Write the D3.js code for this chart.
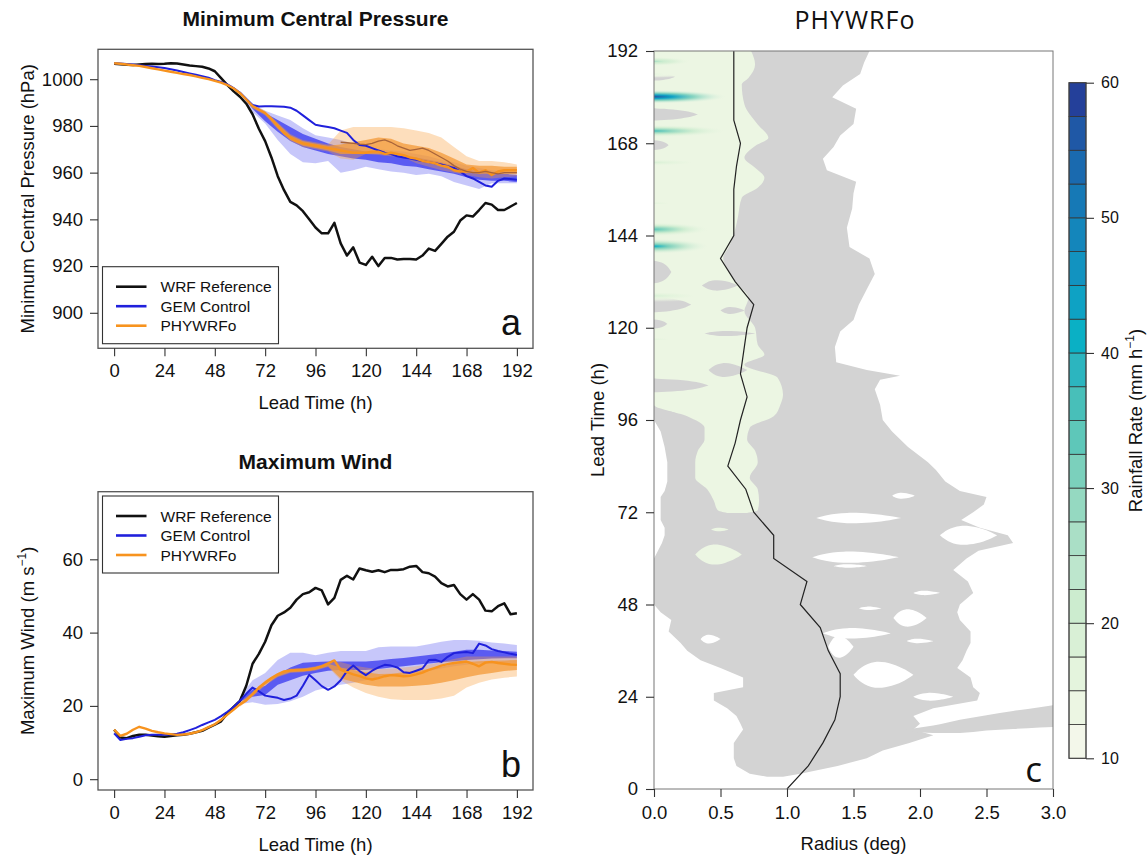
<!DOCTYPE html>
<html>
<head>
<meta charset="utf-8">
<script src="https://cdn.jsdelivr.net/npm/d3@7"></script>
<style>
    body { margin: 0; background: #ffffff; }
    svg text { font-family: "Liberation Sans", Arial, Helvetica, sans-serif; fill: #111; }
</style>
</head>
<body>
<svg id="chart" width="1148" height="857"></svg>
<script>

//--- Daten ---------------------------------------------------------------------------------------------- //

var leadHours = d3.range(0, 193, 3);
var bandHours = d3.range(60, 193, 6);
var meanHours = d3.range(108, 193, 3);
var stormHours = d3.range(0, 193, 6);

var hourTicks = [0, 24, 48, 72, 96, 120, 144, 168, 192];
var pressureTicks = [900, 920, 940, 960, 980, 1000];
var windTicks = [0, 20, 40, 60];
var radiusTicks = [0, 0.5, 1, 1.5, 2, 2.5, 3];
var rainTicks = [10, 20, 30, 40, 50, 60];

var legendNames = ['WRF Reference', 'GEM Control', 'PHYWRFo'];

// minimum central pressure (hPa), every 3 h
var wrfPressure = [1006.6, 1006.4, 1006.2, 1006.1, 1006.3, 1006.5, 1006.6, 1006.5, 1006.6, 1006.8, 1006.7, 1006.3, 1005.9, 1005.6, 1005.3, 1004.6, 1003.4, 1000.5, 997.5, 994.8, 992.5, 989.5, 985.0, 978.8, 973.5, 966.5, 958.5, 952.5, 947.5, 946.0, 943.5, 940.0, 936.5, 934.0, 934.0, 938.5, 929.7, 924.5, 928.0, 921.5, 920.5, 924.0, 920.0, 923.5, 923.5, 922.8, 923.0, 923.0, 922.8, 924.5, 927.5, 926.5, 929.5, 932.6, 934.7, 939.5, 941.7, 941.2, 944.0, 947.0, 946.3, 944.0, 944.0, 945.5, 947.0];
var gemPressure = [1006.8, 1006.7, 1006.5, 1006.3, 1006.0, 1005.7, 1005.4, 1005.1, 1004.8, 1004.3, 1003.7, 1003.1, 1002.5, 1001.9, 1001.3, 1000.6, 999.6, 998.8, 997.8, 996.2, 994.2, 991.5, 989.0, 988.3, 988.4, 988.4, 988.3, 988.2, 987.8, 986.5, 984.5, 982.5, 980.5, 980.0, 979.5, 979.0, 978.0, 977.0, 974.0, 971.8, 971.5, 970.5, 969.5, 968.5, 968.0, 967.0, 966.5, 966.0, 965.5, 965.0, 964.5, 964.0, 963.5, 962.8, 962.0, 960.5, 958.5, 957.5, 956.0, 954.5, 954.0, 956.5, 957.5, 957.3, 957.0];
var phyPressure = [1006.8, 1006.6, 1006.3, 1006.0, 1005.7, 1005.2, 1004.7, 1004.2, 1003.7, 1003.2, 1002.7, 1002.2, 1001.8, 1001.2, 1000.6, 1000.0, 999.3, 998.5, 997.5, 996.0, 994.0, 991.3, 988.5, 987.0, 985.5, 983.0, 980.0, 977.0, 975.0, 973.5, 972.5, 972.0, 971.5, 971.0, 970.5, 970.0, 969.5, 969.0, 968.5, 968.5, 968.5, 969.0, 969.0, 968.0, 968.5, 968.0, 967.5, 966.5, 966.0, 965.0, 964.5, 964.0, 963.0, 962.5, 961.0, 960.5, 960.5, 962.0, 960.0, 961.0, 959.0, 960.5, 961.0, 961.0, 961.0];
var phyMeanPressure = [973.0, 972.8, 972.5, 972.2, 972.0, 972.5, 973.5, 974.0, 973.0, 971.5, 970.5, 969.5, 970.0, 970.5, 969.5, 968.0, 966.5, 965.0, 963.0, 961.5, 960.5, 960.0, 960.0, 960.5, 960.0, 959.5, 960.0, 960.0, 960.0];

// ensemble spread (light) and interquartile range (dark), every 6 h from 60 h
var gemPresSpreadHi = [995.0, 989.5, 986.5, 984.5, 982.5, 979.0, 976.0, 975.0, 974.0, 972.5, 971.0, 970.0, 969.5, 969.0, 968.0, 967.0, 965.5, 964.5, 963.0, 962.0, 961.0, 960.5, 960.0];
var gemPresSpreadLo = [993.5, 986.0, 981.0, 974.0, 968.0, 964.5, 964.0, 965.0, 960.0, 961.0, 962.5, 961.5, 960.5, 960.0, 959.0, 959.5, 958.5, 956.0, 954.5, 953.0, 955.5, 955.5, 955.5];
var gemPresIqrHi = [994.5, 988.8, 985.5, 982.5, 979.5, 976.5, 974.5, 972.5, 971.0, 970.0, 969.0, 968.5, 968.0, 967.0, 966.5, 965.5, 964.5, 963.0, 961.5, 960.5, 960.0, 959.5, 959.0];
var gemPresIqrLo = [994.0, 987.3, 982.0, 977.5, 973.5, 971.0, 969.5, 968.0, 967.0, 966.0, 965.5, 964.5, 964.0, 963.0, 962.5, 961.5, 960.5, 959.5, 958.0, 957.0, 956.5, 956.5, 956.0];
var phyPresSpreadHi = [994.8, 989.0, 986.5, 981.5, 976.5, 974.0, 973.0, 972.0, 978.0, 979.5, 979.5, 979.5, 979.5, 979.0, 978.0, 977.0, 975.0, 971.0, 967.0, 965.0, 965.0, 964.5, 963.5];
var phyPresSpreadLo = [993.5, 987.5, 984.5, 978.5, 973.5, 971.0, 970.0, 969.0, 966.0, 965.5, 968.0, 967.5, 967.0, 966.5, 964.0, 962.5, 961.0, 960.0, 959.0, 958.0, 957.5, 958.0, 958.5];
var phyPresIqrHi = [994.3, 988.7, 986.0, 981.0, 976.0, 973.5, 972.5, 971.5, 972.0, 973.0, 974.0, 975.0, 974.5, 972.5, 971.5, 970.5, 968.5, 966.0, 963.5, 963.0, 963.0, 962.5, 962.5];
var phyPresIqrLo = [993.8, 987.8, 985.0, 979.0, 974.0, 971.5, 970.5, 969.5, 968.0, 968.0, 968.0, 968.0, 967.5, 966.5, 965.5, 964.5, 962.5, 961.0, 960.0, 959.5, 959.5, 959.5, 959.5];

// maximum wind (m/s), every 3 h
var wrfWind = [13.5, 11.4, 11.2, 11.8, 12.1, 12.1, 11.9, 11.7, 11.6, 11.8, 12.0, 12.1, 12.4, 12.8, 13.2, 14.1, 14.9, 15.8, 18.0, 19.7, 21.4, 25.5, 31.5, 34.2, 37.5, 42.0, 44.6, 45.5, 46.8, 49.0, 50.5, 51.0, 52.2, 51.5, 47.7, 49.5, 54.4, 55.5, 54.5, 57.5, 57.0, 56.6, 57.0, 56.5, 57.1, 57.1, 57.3, 58.0, 58.2, 56.5, 56.2, 55.3, 53.5, 52.6, 53.0, 50.5, 49.0, 50.5, 49.0, 46.0, 45.8, 47.2, 48.0, 45.0, 45.3];
var gemWind = [12.5, 10.7, 11.0, 11.2, 11.6, 12.0, 12.1, 12.1, 12.1, 12.2, 12.4, 12.8, 13.4, 14.0, 14.8, 15.5, 16.2, 17.2, 18.4, 19.7, 21.4, 23.3, 25.0, 24.0, 22.8, 22.5, 22.2, 21.6, 22.0, 22.8, 25.5, 28.5, 27.0, 25.4, 24.4, 25.3, 27.0, 29.5, 31.0, 29.5, 28.4, 29.6, 30.5, 31.2, 31.0, 30.5, 29.2, 29.0, 29.6, 30.2, 32.5, 32.6, 32.0, 33.4, 34.4, 34.6, 34.7, 34.4, 37.0, 36.5, 35.5, 35.0, 34.6, 34.2, 33.9];
var phyWind = [13.5, 11.8, 12.4, 13.5, 14.3, 13.8, 13.2, 12.8, 12.5, 12.3, 12.1, 12.2, 12.4, 12.8, 13.4, 14.2, 15.0, 16.2, 17.6, 19.0, 20.4, 21.5, 23.2, 25.0, 26.3, 27.6, 28.6, 29.4, 29.7, 29.8, 29.8, 29.9, 30.3, 30.8, 31.6, 32.4, 29.8, 29.2, 28.6, 28.1, 27.5, 27.2, 27.6, 28.1, 28.4, 28.3, 28.1, 28.2, 28.6, 29.1, 29.8, 30.4, 31.0, 31.4, 31.7, 31.9, 32.1, 31.5, 30.8, 31.8, 32.0, 31.7, 31.5, 31.3, 31.2];

var gemWindSpreadHi = [22.5, 27.0, 29.0, 32.5, 34.5, 34.5, 33.8, 34.5, 35.0, 35.0, 35.0, 36.0, 36.2, 36.2, 36.2, 36.8, 37.5, 38.0, 38.0, 37.8, 37.3, 37.0, 36.6];
var gemWindSpreadLo = [20.5, 21.0, 20.3, 20.5, 21.3, 22.5, 24.2, 25.0, 25.8, 26.3, 27.0, 27.8, 28.2, 28.5, 28.9, 29.5, 30.2, 30.8, 31.2, 31.6, 31.6, 31.6, 31.6];
var gemWindIqrHi = [21.8, 24.5, 25.5, 28.5, 30.5, 31.8, 32.0, 32.1, 32.1, 32.1, 32.1, 32.4, 32.8, 33.1, 33.5, 33.9, 34.3, 34.8, 35.3, 35.3, 35.1, 35.0, 34.8];
var gemWindIqrLo = [21.2, 22.5, 23.0, 25.8, 27.0, 28.2, 29.0, 29.6, 29.8, 29.8, 29.8, 30.1, 30.5, 30.8, 31.2, 31.6, 31.9, 32.2, 32.5, 32.7, 32.9, 33.0, 33.0];
var phyWindSpreadHi = [21.0, 23.8, 27.0, 29.0, 30.2, 30.3, 30.8, 31.8, 32.0, 31.0, 30.5, 30.0, 30.2, 30.5, 30.8, 31.3, 32.0, 32.8, 33.5, 33.5, 33.5, 33.5, 33.5];
var phyWindSpreadLo = [19.8, 22.5, 25.5, 27.8, 29.0, 29.2, 29.6, 30.6, 27.0, 25.0, 23.5, 22.5, 21.8, 21.6, 21.6, 21.6, 22.0, 22.8, 25.0, 26.3, 27.2, 27.7, 28.0];
var phyWindIqrHi = [20.8, 23.5, 26.7, 28.8, 30.0, 30.2, 30.6, 31.5, 30.5, 29.8, 29.2, 28.7, 28.8, 29.2, 29.6, 30.0, 30.7, 31.5, 32.0, 32.2, 32.3, 32.4, 32.5];
var phyWindIqrLo = [20.1, 22.8, 25.8, 28.0, 29.2, 29.4, 29.8, 30.8, 27.5, 26.6, 25.8, 25.3, 25.3, 25.3, 25.5, 25.8, 26.3, 27.0, 27.8, 28.5, 29.0, 29.5, 29.8];

// radius of maximum wind (deg), every 6 h
var rmwRadius = [1.00, 1.16, 1.27, 1.36, 1.40, 1.40, 1.31, 1.25, 1.10, 1.15, 0.90, 0.90, 0.75, 0.69, 0.555, 0.61, 0.65, 0.70, 0.65, 0.675, 0.70, 0.75, 0.61, 0.50, 0.60, 0.60, 0.60, 0.62, 0.65, 0.60, 0.60, 0.60, 0.60];

// light rain envelope (gray): inner and outer radius per lead time
var grayHours = [3.2, 4, 6, 8, 10, 12, 14, 15.5, 17, 19, 21, 23, 25, 26.5, 29, 31.5, 33.5, 36, 38, 41, 44, 46, 48, 51, 54, 57, 60, 62, 64, 66, 68, 70, 72, 74, 76, 77.5, 80, 83, 85, 89, 93, 96, 100, 104, 106.5, 107.5, 109, 111, 115, 119, 122, 126, 130, 134, 138, 141, 146, 151, 155, 158, 161, 164, 167, 170, 173, 177, 180, 183, 186, 189, 192];
var grayInner = [0.85, 0.72, 0.62, 0.60, 0.60, 0.60, 0.64, 0.67, 0.65, 0.62, 0.55, 0.45, 0.45, 0.67, 0.67, 0.50, 0.35, 0.25, 0.20, 0.11, 0.13, 0.05, 0, 0, 0, 0, 0, 0.03, 0.06, 0.08, 0.08, 0.05, 0.05, 0.05, 0.05, 0.08, 0.10, 0.10, 0.10, 0.08, 0.05, 0, 0, 0, 0, 0, 0, 0, 0, 0, 0, 0, 0, 0, 0, 0, 0, 0, 0, 0, 0, 0, 0, 0, 0, 0, 0, 0, 0, 0, 0];
var grayOuter = [0.97, 1.10, 1.38, 1.60, 1.72, 1.92, 2.10, 1.95, 2.00, 1.95, 2.10, 2.43, 2.45, 2.40, 2.38, 2.28, 2.32, 2.35, 2.38, 2.38, 2.30, 2.28, 2.30, 2.40, 2.36, 2.25, 2.35, 2.44, 2.70, 2.66, 2.45, 2.31, 2.40, 2.48, 2.50, 2.30, 2.19, 2.12, 2.06, 1.91, 1.79, 1.72, 1.70, 1.66, 1.70, 1.85, 1.60, 1.37, 1.36, 1.40, 1.50, 1.54, 1.60, 1.66, 1.62, 1.47, 1.45, 1.49, 1.50, 1.52, 1.30, 1.27, 1.35, 1.40, 1.50, 1.52, 1.34, 1.42, 1.55, 1.58, 1.62];

// outer rain tail near the start
var tailRadius = [1.9, 2.1, 2.3, 2.5, 2.7, 2.9, 3.05];
var tailLow = [15.0, 14.6, 14.6, 15.2, 15.6, 16.0, 16.2];
var tailHigh = [15.5, 16.5, 18.0, 19.2, 20.3, 21.3, 22.0];

// dry gaps inside the envelope: hour, inner, outer, half depth (h)
var gapHours = [76.3, 70.5, 66.0, 60.3, 58.0, 51.0, 47.0, 44.5, 40.5, 37.0, 38.5, 29.7, 24.0, 39.0];
var gapInner = [1.79, 1.22, 2.15, 1.19, 1.35, 1.95, 1.54, 1.80, 1.27, 1.31, 1.90, 1.50, 1.95, 0.35];
var gapOuter = [1.96, 1.86, 2.58, 1.84, 1.60, 2.15, 1.71, 2.05, 1.78, 1.50, 2.10, 1.95, 2.25, 0.50];
var gapHalf = [0.7, 1.2, 2.2, 1.3, 0.4, 0.5, 0.4, 2.0, 1.2, 2.5, 0.5, 3.0, 0.9, 1.0];

// rain above 10 mm/h (pale green zone)
var greenHours = [71.8, 72.5, 75, 78, 81, 85, 88, 91, 94, 97, 100, 102.6, 107, 110.4, 113, 115.6, 120, 124.3, 127.8, 131.3, 134.7, 138.2, 140.8, 144.3, 148.6, 153.8, 156.4, 159, 161.6, 164.2, 167.3, 169.4, 172.9, 178.1, 183.3, 185, 188.5, 192];
var greenInner = [0.55, 0.48, 0.45, 0.40, 0.31, 0.31, 0.33, 0.38, 0.38, 0.25, 0, 0, 0, 0, 0, 0, 0, 0, 0, 0, 0, 0, 0, 0, 0, 0, 0, 0, 0, 0, 0, 0, 0, 0, 0, 0, 0, 0];
var greenOuter = [0.70, 0.78, 0.79, 0.78, 0.72, 0.78, 0.76, 0.70, 0.72, 0.90, 0.95, 0.97, 0.93, 0.68, 0.83, 0.78, 0.76, 0.68, 0.71, 0.63, 0.56, 0.52, 0.56, 0.60, 0.63, 0.66, 0.78, 0.83, 0.76, 0.68, 0.76, 0.86, 0.78, 0.68, 0.66, 0.71, 0.76, 0.73];
var patchHours = [61.0, 67.5];
var patchInner = [0.31, 0.43];
var patchOuter = [0.66, 0.56];
var patchHalf = [2.3, 0.4];

// light rain fingers reaching into the green zone
var fingerHours = [185.3, 175.5, 167.5, 134.5, 131.0, 126.0, 124.5, 121.0, 118.5, 109.0, 105.0, 97.5];
var fingerInner = [0, 0, 0, 0, 0.36, 0, 0.50, 0, 0.38, 0.41, 0, 0];
var fingerOuter = [0.16, 0.33, 0.11, 0.13, 0.63, 0.28, 0.68, 0.10, 0.76, 0.70, 0.41, 0.18];
var fingerHalf = [1.0, 1.6, 1.3, 3.0, 1.2, 2.0, 0.8, 1.2, 0.6, 1.6, 1.8, 1.2];

// heavy rain cores at the centre: hour, reach (deg), peak (mm/h), half depth (h)
var coreHours = [189.3, 186.0, 180.1, 171.2, 163.0, 152.4, 145.6, 141.2, 128.3, 117.0];
var coreReach = [0.28, 0.36, 0.55, 0.55, 0.52, 0.48, 0.42, 0.42, 0.55, 0.45];
var corePeak = [27, 16, 57, 36, 19, 17, 34, 40, 19, 16];
var coreHalf = [1.2, 1.0, 1.8, 1.6, 1.3, 1.3, 1.8, 2.0, 1.6, 1.3];

var rainLevels = [10, 12.5, 15, 17.5, 20, 22.5, 25, 27.5, 30, 32.5, 35, 37.5, 40, 42.5, 45, 47.5, 50, 52.5, 55, 57.5, 60];


//--- Konfiguration -------------------------------------------------------------------------------------- //

var Config = {
    rainColors: ['#f3f7ea', '#ecf6e3', '#e4f4dd', '#d9f0d6', '#cceccf', '#bde6cd', '#aadfc6', '#95d9c1', '#7bd0bc', '#5ec7b9',
                 '#48bfb9', '#2cb5bf', '#0ab0c5', '#0ea2c4', '#1293c0', '#1486bb', '#1679b6', '#1a6aaf', '#1f58a6', '#24409a'],
    gray: '#d3d3d3',
    tickFont: '18.5px',
    labelFont: '18.5px'
};

var rainColor = d3.scaleThreshold()
    .domain(rainLevels.slice(1, -1))
    .range(Config.rainColors);

var svg = d3.select('#chart');
var defs = svg.append('defs');


//--- Hilfsfunktionen ------------------------------------------------------------------------------------ //

function pick(hours, values) {
    return hours.map(function (h, i) { return { h: h, v: values[i] }; });
}

function pickBand(hours, lo, hi) {
    return hours.map(function (h, i) { return { h: h, lo: lo[i], hi: hi[i] }; });
}

function styleAxis(ax, size) {
    ax.select('.domain').remove();
    ax.selectAll('.tick line').attr('stroke', '#333').attr('stroke-width', 1.1);
    ax.selectAll('.tick text').attr('font-size', size).attr('fill', '#111')
        .attr('font-family', '"Liberation Sans", Arial, sans-serif');
}

function rotatedLabel(g, cx, cy, parts) {
    var t = g.append('text')
        .attr('transform', 'translate(' + cx + ',' + cy + ') rotate(-90)')
        .attr('text-anchor', 'middle')
        .attr('font-size', Config.labelFont);
    t.append('tspan').text(parts[0]);
    if (parts.length > 1) {
        t.append('tspan').text(parts[1]).attr('font-size', '12px').attr('dy', -8);
        t.append('tspan').text(parts[2]).attr('dy', 8);
    }
    return t;
}


//--- Linien-Panel (a, b) ----------------------------------------------------------------------------- //

function renderLinePanel(p) {

    var g = svg.append('g').attr('id', 'panel-' + p.letter);

    var x = d3.scaleLinear().domain([-7.68, 199.68]).range([p.left, p.right]);
    var y = d3.scaleLinear().domain(p.yDomain).range([p.bottom, p.top]);

    defs.append('clipPath').attr('id', 'clip-' + p.letter)
        .append('rect')
        .attr('x', p.left).attr('y', p.top)
        .attr('width', p.right - p.left).attr('height', p.bottom - p.top);

    var plot = g.append('g').attr('clip-path', 'url(#clip-' + p.letter + ')');

    var band = d3.area()
        .x(function (d) { return x(d.h); })
        .y0(function (d) { return y(d.lo); })
        .y1(function (d) { return y(d.hi); });

    p.bands.forEach(function (b) {
        plot.append('path')
            .datum(b.data)
            .attr('d', band)
            .attr('fill', b.fill)
            .attr('fill-opacity', b.opacity);
    });

    var line = d3.line()
        .x(function (d) { return x(d.h); })
        .y(function (d) { return y(d.v); });

    p.lines.forEach(function (l) {
        plot.append('path')
            .datum(l.data)
            .attr('d', line)
            .attr('fill', 'none')
            .attr('stroke', l.color)
            .attr('stroke-width', l.width)
            .attr('stroke-linejoin', 'round');
    });

    // Rahmen
    g.append('rect')
        .attr('x', p.left).attr('y', p.top)
        .attr('width', p.right - p.left).attr('height', p.bottom - p.top)
        .attr('fill', 'none').attr('stroke', '#555').attr('stroke-width', 1.3);

    var xAxis = g.append('g')
        .attr('transform', 'translate(0,' + p.bottom + ')')
        .call(d3.axisBottom(x).tickValues(hourTicks).tickSize(8).tickPadding(8));
    styleAxis(xAxis, Config.tickFont);

    var yAxis = g.append('g')
        .attr('transform', 'translate(' + p.left + ',0)')
        .call(d3.axisLeft(y).tickValues(p.yTicks).tickFormat(d3.format('d')).tickSize(8).tickPadding(7));
    styleAxis(yAxis, Config.tickFont);

    // Titel und Achsentitel
    g.append('text')
        .attr('x', (p.left + p.right) / 2).attr('y', p.titleY)
        .attr('text-anchor', 'middle')
        .attr('font-size', '21px').attr('font-weight', 'bold')
        .text(p.title);

    g.append('text')
        .attr('x', (p.left + p.right) / 2).attr('y', p.bottom + 61)
        .attr('text-anchor', 'middle')
        .attr('font-size', Config.labelFont)
        .text('Lead Time (h)');

    rotatedLabel(g, 34, (p.top + p.bottom) / 2, p.yLabel);

    g.append('text')
        .attr('x', p.right - 12).attr('y', p.bottom - 13)
        .attr('text-anchor', 'end')
        .attr('font-size', '36px')
        .text(p.letter);

    // Legende
    var lg = g.append('g').attr('transform', 'translate(102.5,' + p.legendTop + ')');
    lg.append('rect')
        .attr('width', 176).attr('height', 77)
        .attr('fill', '#fff').attr('stroke', '#333').attr('stroke-width', 1.1);

    legendNames.forEach(function (name, i) {
        var cy = 20 + i * 19.5;
        lg.append('line')
            .attr('x1', 13.5).attr('x2', 44).attr('y1', cy).attr('y2', cy)
            .attr('stroke', p.lines[i].color).attr('stroke-width', 2.6);
        lg.append('text')
            .attr('x', 58).attr('y', cy + 5.5)
            .attr('font-size', '15.5px')
            .text(name);
    });
}


//--- Regen-Panel (c) ---------------------------------------------------------------------------------- //

function renderRainPanel() {

    var left = 654, right = 1053, top = 51, bottom = 789;
    var g = svg.append('g').attr('id', 'panel-c');

    var x = d3.scaleLinear().domain([0, 3]).range([left, right]);
    var y = d3.scaleLinear().domain([0, 192]).range([bottom, top]);

    defs.append('clipPath').attr('id', 'clip-c')
        .append('rect')
        .attr('x', left).attr('y', top)
        .attr('width', right - left).attr('height', bottom - top);

    var plot = g.append('g').attr('clip-path', 'url(#clip-c)');

    var ring = d3.area()
        .y(function (d) { return y(d.h); })
        .x0(function (d) { return x(d.lo); })
        .x1(function (d) { return x(d.hi); });

    plot.append('path')
        .datum(pickBand(grayHours, grayInner, grayOuter))
        .attr('d', ring)
        .attr('fill', Config.gray);

    plot.append('path')
        .datum(tailRadius.map(function (r, i) { return { r: r, lo: tailLow[i], hi: tailHigh[i] }; }))
        .attr('d', d3.area()
            .curve(d3.curveMonotoneX)
            .x(function (d) { return x(d.r); })
            .y0(function (d) { return y(d.lo); })
            .y1(function (d) { return y(d.hi); }))
        .attr('fill', Config.gray);

    // Streifen (Luecken / Finger) als spitz zulaufende Linsen
    var lens = d3.area()
        .curve(d3.curveBasis)
        .x(function (d) { return x(d.r); })
        .y0(function (d) { return y(d.h - d.w); })
        .y1(function (d) { return y(d.h + d.w); });

    var lensShape = [0, 0.55, 1, 0.8, 0.35, 0];
    var lensPos = [0, 0.12, 0.35, 0.65, 0.88, 1];

    function streaks(hours, inner, outer, half, fill) {
        hours.forEach(function (h, i) {
            var lo = inner[i], hi = outer[i];
            var pts;
            if (lo === 0) {
                // am Zentrum offen: volle Dicke bei r = 0
                pts = [-0.05, 0, 0.45, 0.8, 1].map(function (f, k) {
                    return { r: f < 0 ? f : lo + f * (hi - lo), h: h, w: half[i] * [1, 1, 0.85, 0.5, 0][k] };
                });
            } else {
                pts = lensPos.map(function (f, k) {
                    return { r: lo + f * (hi - lo), h: h, w: half[i] * lensShape[k] * 1.25 };
                });
            }
            plot.append('path')
                .datum(pts)
                .attr('d', lens)
                .attr('fill', fill);
        });
    }

    streaks(gapHours, gapInner, gapOuter, gapHalf, '#ffffff');

    plot.append('path')
        .datum(pickBand(greenHours, greenInner, greenOuter))
        .attr('d', ring.curve(d3.curveMonotoneY))
        .attr('fill', rainColor(13));

    streaks(patchHours, patchInner, patchOuter, patchHalf, rainColor(13));
    streaks(fingerHours, fingerInner, fingerOuter, fingerHalf, Config.gray);

    // Regenkerne mit Verlauf
    coreHours.forEach(function (h, i) {
        var id = 'core' + i;
        var grad = defs.append('radialGradient').attr('id', id);
        grad.append('stop').attr('offset', '0%').attr('stop-color', rainColor(corePeak[i]));
        grad.append('stop').attr('offset', '25%').attr('stop-color', rainColor(corePeak[i] * 0.75 + 2));
        grad.append('stop').attr('offset', '55%').attr('stop-color', rainColor(corePeak[i] * 0.45 + 6)).attr('stop-opacity', 0.85);
        grad.append('stop').attr('offset', '100%').attr('stop-color', rainColor(13)).attr('stop-opacity', 0);

        plot.append('ellipse')
            .attr('cx', x(0))
            .attr('cy', y(h))
            .attr('rx', x(coreReach[i]) - x(0))
            .attr('ry', y(0) - y(coreHalf[i]))
            .attr('fill', 'url(#' + id + ')');
    });

    plot.append('path')
        .datum(pick(stormHours, rmwRadius))
        .attr('d', d3.line()
            .x(function (d) { return x(d.v); })
            .y(function (d) { return y(d.h); }))
        .attr('fill', 'none')
        .attr('stroke', '#222')
        .attr('stroke-width', 1.2);

    g.append('rect')
        .attr('x', left).attr('y', top)
        .attr('width', right - left).attr('height', bottom - top)
        .attr('fill', 'none').attr('stroke', '#777').attr('stroke-width', 1);

    var xAxis = g.append('g')
        .attr('transform', 'translate(0,' + bottom + ')')
        .call(d3.axisBottom(x).tickValues(radiusTicks).tickFormat(d3.format('.1f')).tickSize(8).tickPadding(9));
    styleAxis(xAxis, Config.tickFont);

    var yAxis = g.append('g')
        .attr('transform', 'translate(' + left + ',0)')
        .call(d3.axisLeft(y).tickValues(hourTicks).tickSize(8).tickPadding(8));
    styleAxis(yAxis, Config.tickFont);

    g.append('text')
        .attr('x', (left + right) / 2).attr('y', 850)
        .attr('text-anchor', 'middle')
        .attr('font-size', Config.labelFont)
        .text('Radius (deg)');

    rotatedLabel(g, 604, (top + bottom) / 2, ['Lead Time (h)']);

    g.append('text')
        .attr('x', 855).attr('y', 29)
        .attr('text-anchor', 'middle')
        .style('font-family', '"Open Sans", sans-serif')
        .attr('font-size', '25px')
        .attr('letter-spacing', '1px')
        .text('PHYWRFo');

    g.append('text')
        .attr('x', right - 11).attr('y', bottom - 7)
        .attr('text-anchor', 'end')
        .style('font-family', '"Open Sans", sans-serif')
        .attr('font-size', '35px')
        .text('c');
}


//--- Farbskala ---------------------------------------------------------------------------------------- //

function renderColorbar() {

    var left = 1069, right = 1086, top = 82.7, bottom = 758.3;
    var g = svg.append('g').attr('id', 'colorbar');
    var y = d3.scaleLinear().domain([10, 60]).range([bottom, top]);

    g.selectAll('rect.bin')
        .data(rainLevels.slice(0, -1))
        .enter().append('rect')
        .attr('class', 'bin')
        .attr('x', left)
        .attr('width', right - left)
        .attr('y', function (d, i) { return y(rainLevels[i + 1]); })
        .attr('height', function (d, i) { return y(d) - y(rainLevels[i + 1]); })
        .attr('fill', function (d) { return rainColor(d + 1.25); })
        .attr('stroke', '#333')
        .attr('stroke-width', 0.8);

    g.append('rect')
        .attr('x', left).attr('y', top)
        .attr('width', right - left).attr('height', bottom - top)
        .attr('fill', 'none').attr('stroke', '#444').attr('stroke-width', 1);

    var ax = g.append('g')
        .attr('transform', 'translate(' + right + ',0)')
        .call(d3.axisRight(y).tickValues(rainTicks).tickSize(8).tickPadding(7));
    styleAxis(ax, '16px');

    rotatedLabel(g, 1142, (top + bottom) / 2, ['Rainfall Rate (mm h', '\u22121', ')']);
}


//--- Zusammensetzen ----------------------------------------------------------------------------------- //

function generateChart() {

    var blueLight = '#5050f0', blueDark = '#3232ee', orangeLight = '#f8a040', orangeDark = '#f39a38';

    renderLinePanel({
        letter: 'a',
        title: 'Minimum Central Pressure',
        titleY: 25.5,
        left: 98, right: 533, top: 49.3, bottom: 348.3,
        yDomain: [884.8, 1012.8],
        yTicks: pressureTicks,
        yLabel: ['Minimum Central Pressure (hPa)'],
        legendTop: 266.7,
        bands: [
            { data: pickBand(bandHours, gemPresSpreadLo, gemPresSpreadHi), fill: blueLight, opacity: 0.32 },
            { data: pickBand(bandHours, gemPresIqrLo, gemPresIqrHi), fill: blueDark, opacity: 0.72 },
            { data: pickBand(bandHours, phyPresSpreadLo, phyPresSpreadHi), fill: orangeLight, opacity: 0.35 },
            { data: pickBand(bandHours, phyPresIqrLo, phyPresIqrHi), fill: orangeDark, opacity: 0.75 }
        ],
        lines: [
            { data: pick(leadHours, wrfPressure), color: '#111111', width: 2.5 },
            { data: pick(leadHours, gemPressure), color: '#2020dc', width: 2 },
            { data: pick(leadHours, phyPressure), color: '#f7931e', width: 2.4 },
            { data: pick(meanHours, phyMeanPressure), color: '#a8643a', width: 1.3 }
        ]
    });

    renderLinePanel({
        letter: 'b',
        title: 'Maximum Wind',
        titleY: 469,
        left: 98, right: 533, top: 491.7, bottom: 790,
        yDomain: [-2.95, 78.45],
        yTicks: windTicks,
        yLabel: ['Maximum Wind (m s', '\u22121', ')'],
        legendTop: 496,
        bands: [
            { data: pickBand(bandHours, gemWindSpreadLo, gemWindSpreadHi), fill: blueLight, opacity: 0.32 },
            { data: pickBand(bandHours, gemWindIqrLo, gemWindIqrHi), fill: blueDark, opacity: 0.72 },
            { data: pickBand(bandHours, phyWindSpreadLo, phyWindSpreadHi), fill: orangeLight, opacity: 0.35 },
            { data: pickBand(bandHours, phyWindIqrLo, phyWindIqrHi), fill: orangeDark, opacity: 0.75 }
        ],
        lines: [
            { data: pick(leadHours, wrfWind), color: '#111111', width: 2.5 },
            { data: pick(leadHours, gemWind), color: '#2020dc', width: 2 },
            { data: pick(leadHours, phyWind), color: '#f7931e', width: 2.4 }
        ]
    });

    renderRainPanel();
    renderColorbar();
}

generateChart();

</script>
</body>
</html>
